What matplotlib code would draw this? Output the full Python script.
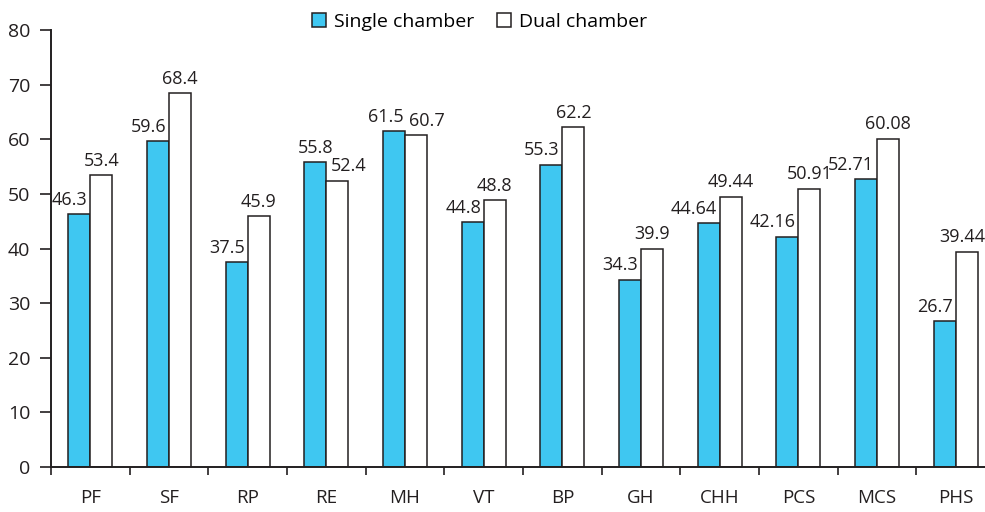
import numpy as np
import matplotlib
matplotlib.use('Agg')
import matplotlib.pyplot as plt
from matplotlib.patches import Patch

plt.rcParams['font.family'] = ['Open Sans', 'DejaVu Sans']

categories = ['PF', 'SF', 'RP', 'RE', 'MH', 'VT', 'BP', 'GH', 'CHH', 'PCS', 'MCS', 'PHS']
single = [46.3, 59.6, 37.5, 55.8, 61.5, 44.8, 55.3, 34.3, 44.64, 42.16, 52.71, 26.7]
dual = [53.4, 68.4, 45.9, 52.4, 60.7, 48.8, 62.2, 39.9, 49.44, 50.91, 60.08, 39.44]
single_txt = ['46.3', '59.6', '37.5', '55.8', '61.5', '44.8', '55.3', '34.3', '44.64', '42.16', '52.71', '26.7']
dual_txt = ['53.4', '68.4', '45.9', '52.4', '60.7', '48.8', '62.2', '39.9', '49.44', '50.91', '60.08', '39.44']

cyan = '#3FC7F1'
edge = '#231F20'

fig = plt.figure(figsize=(9.85, 5.12), dpi=100)
ax = fig.add_axes([51 / 985, 45 / 512, 944 / 985, 437 / 512])

x = np.arange(len(categories))
w = 0.28
ax.bar(x - w / 2, single, w, color=cyan, edgecolor=edge, linewidth=1.1)
ax.bar(x + w / 2, dual, w, color='white', edgecolor=edge, linewidth=1.1)

for xi, s, d, st, dt in zip(x, single, dual, single_txt, dual_txt):
    if s >= d:
        # single is taller: centre it, push the dual label to the right
        sx = -6 if s - d < 2 else 0
        ax.annotate(st, (xi - w / 2, s), xytext=(sx, 4), textcoords='offset points',
                    ha='center', va='bottom', fontsize=13, color=edge)
        ax.annotate(dt, (xi, d), xytext=(3, 4), textcoords='offset points',
                    ha='left', va='bottom', fontsize=13, color=edge)
    else:
        ax.annotate(st, (xi, s), xytext=(-2, 4), textcoords='offset points',
                    ha='right', va='bottom', fontsize=13, color=edge)
        dx = -3 if xi == len(categories) - 1 else 0
        ax.annotate(dt, (xi + w / 2, d), xytext=(dx, 4), textcoords='offset points',
                    ha='center', va='bottom', fontsize=13, color=edge)

ax.set_xlim(-0.5, len(categories) - 0.5)
ax.set_ylim(0, 80)
ax.set_yticks(range(0, 81, 10))
ax.set_xticks(x)
ax.set_xticklabels(categories)
ax.set_xticks(np.arange(-0.5, len(categories), 1), minor=True)
ax.tick_params(axis='x', which='major', length=0, pad=16, labelsize=13.5, colors=edge)
ax.tick_params(axis='x', which='minor', length=6, width=1.2, direction='out', color=edge)
ax.tick_params(axis='y', length=8, width=1.2, direction='out', pad=7, labelsize=14, colors=edge)

for s in ['top', 'right']:
    ax.spines[s].set_visible(False)
for s in ['left', 'bottom']:
    ax.spines[s].set_linewidth(1.4)
    ax.spines[s].set_color(edge)

handles = [Patch(facecolor=cyan, edgecolor=edge, linewidth=1.1, label='Single chamber'),
           Patch(facecolor='white', edgecolor=edge, linewidth=1.1, label='Dual chamber')]
fig.legend(handles=handles, loc='center', bbox_to_anchor=(0.487, 0.957), ncol=2,
           frameon=False, fontsize=14, handlelength=0.7, handleheight=0.7,
           handletextpad=0.4, columnspacing=1.2)

fig.savefig('out.png', dpi=100)
